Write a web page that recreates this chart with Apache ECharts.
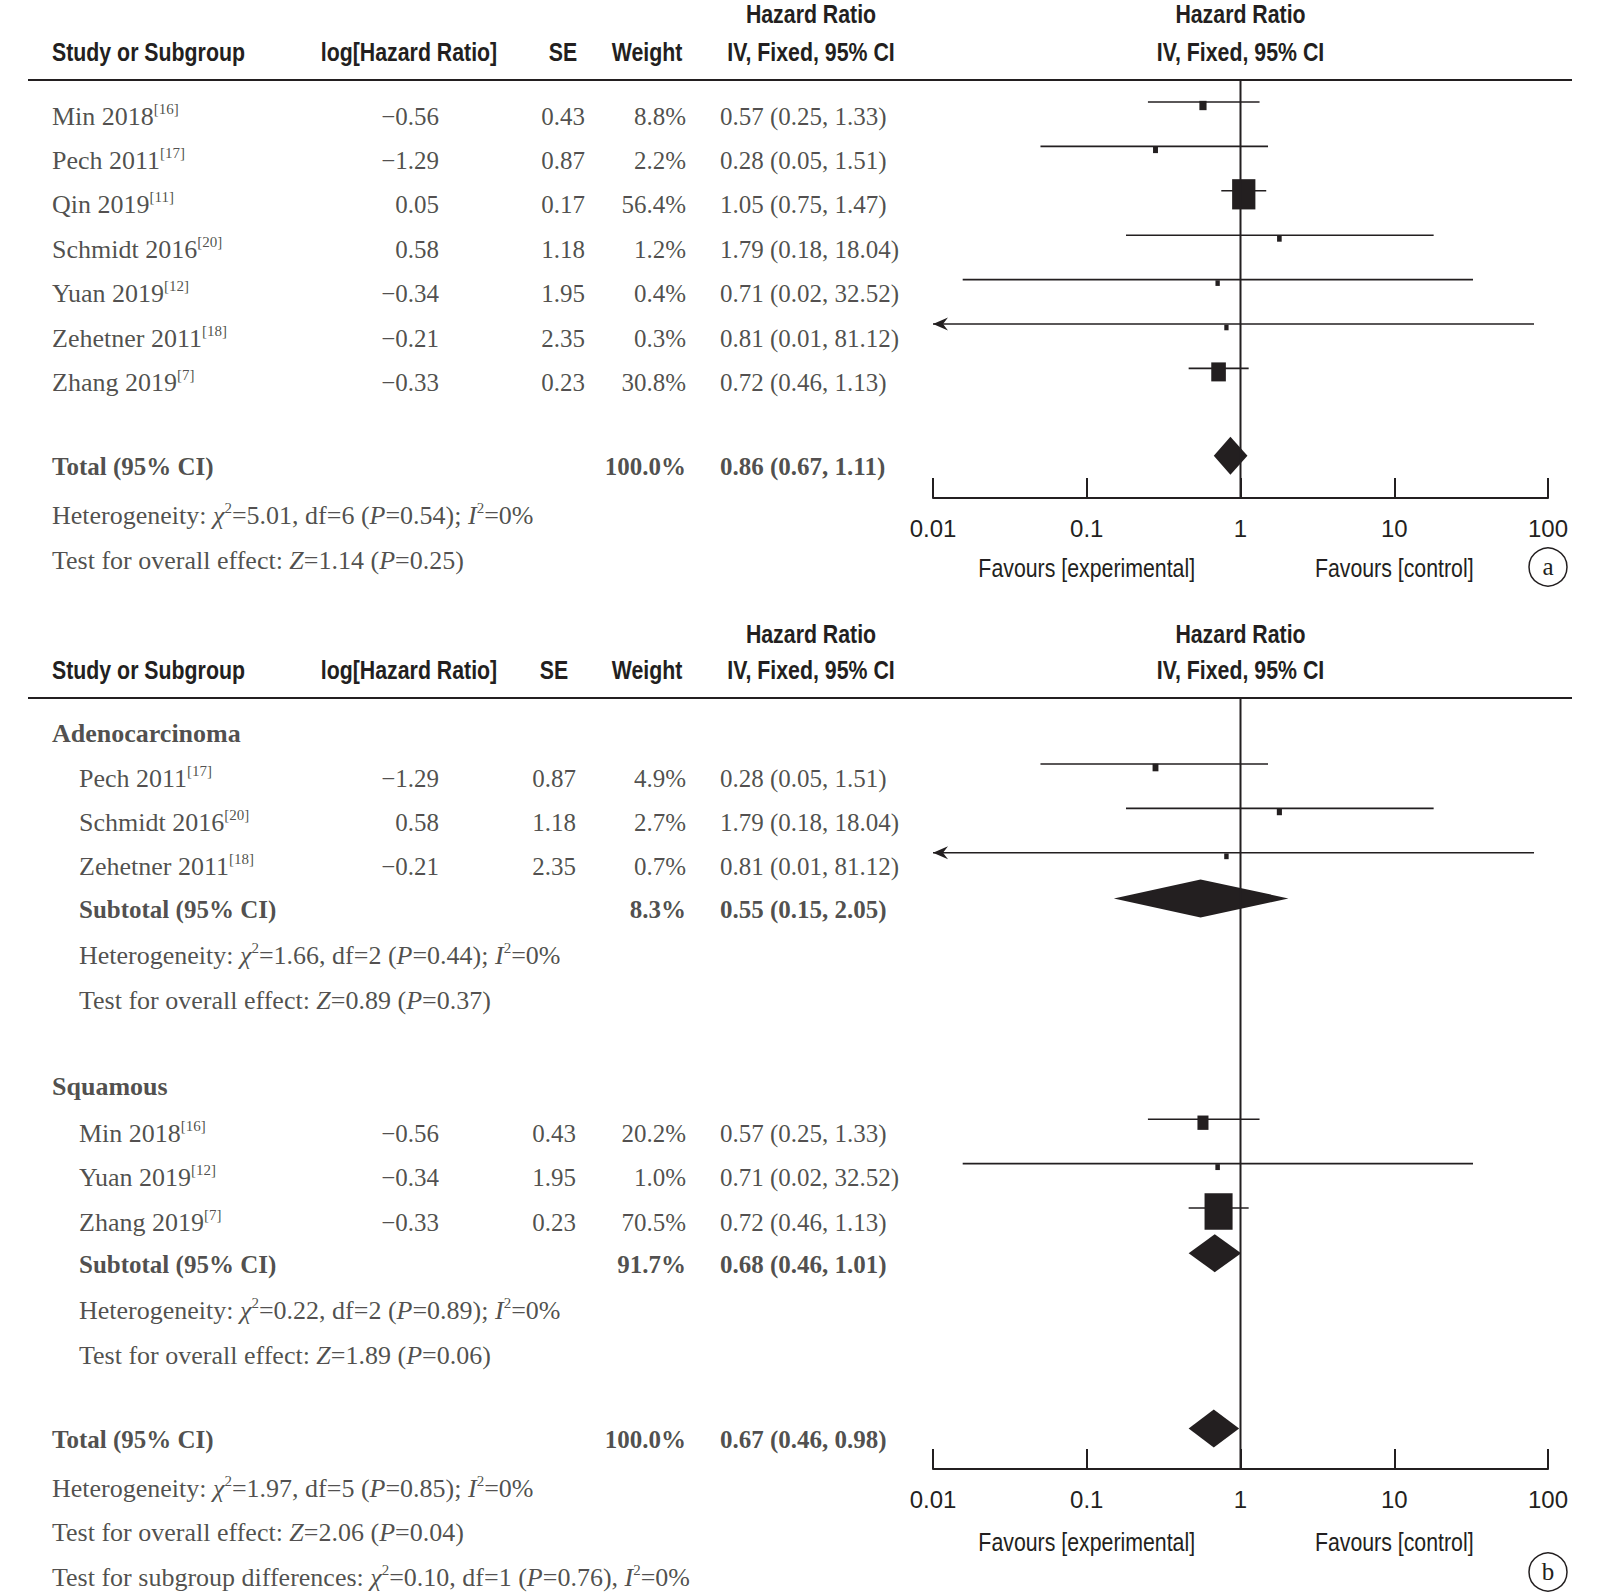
<!DOCTYPE html>
<html><head><meta charset="utf-8">
<script src="https://cdn.jsdelivr.net/npm/echarts@6/dist/echarts.min.js"></script>
<style>html,body{margin:0;padding:0;background:#fff}#c{width:1600px;height:1594px}</style>
</head><body><div id="c"></div>
<script>
// ================= DATA =================
const tickValues = [0.01, 0.1, 1, 10, 100];
const tickLabels = ['0.01', '0.1', '1', '10', '100'];

// Panel (a): overall
const studiesA = ['Min 2018', 'Pech 2011', 'Qin 2019', 'Schmidt 2016', 'Yuan 2019', 'Zehetner 2011', 'Zhang 2019'];
const refsA    = ['16', '17', '11', '20', '12', '18', '7'];
const logHrA   = [-0.56, -1.29, 0.05, 0.58, -0.34, -0.21, -0.33];
const seA      = [0.43, 0.87, 0.17, 1.18, 1.95, 2.35, 0.23];
const weightA  = [8.8, 2.2, 56.4, 1.2, 0.4, 0.3, 30.8];
const hrA      = [0.57, 0.28, 1.05, 1.79, 0.71, 0.81, 0.72];
const loA      = [0.25, 0.05, 0.75, 0.18, 0.0156, 0.01, 0.46];
const hiA      = [1.33, 1.51, 1.47, 18.04, 32.52, 81.12, 1.13];
const totalWeightA = 100.0;
const totalHrA = [0.86, 0.67, 1.11];   // estimate, lower, upper
const statsA = ['Heterogeneity: χ²=5.01, df=6 (P=0.54); I²=0%', 'Test for overall effect: Z=1.14 (P=0.25)'];

// Panel (b): subgroups
const adenoStudies = ['Pech 2011', 'Schmidt 2016', 'Zehetner 2011'];
const adenoRefs    = ['17', '20', '18'];
const adenoLogHr   = [-1.29, 0.58, -0.21];
const adenoSe      = [0.87, 1.18, 2.35];
const adenoWeight  = [4.9, 2.7, 0.7];
const adenoHr      = [0.28, 1.79, 0.81];
const adenoLo      = [0.05, 0.18, 0.01];
const adenoHi      = [1.51, 18.04, 81.12];
const adenoSubWeight = 8.3;
const adenoSubHr   = [0.55, 0.15, 2.05];
const adenoStats   = ['Heterogeneity: χ²=1.66, df=2 (P=0.44); I²=0%', 'Test for overall effect: Z=0.89 (P=0.37)'];

const squamStudies = ['Min 2018', 'Yuan 2019', 'Zhang 2019'];
const squamRefs    = ['16', '12', '7'];
const squamLogHr   = [-0.56, -0.34, -0.33];
const squamSe      = [0.43, 1.95, 0.23];
const squamWeight  = [20.2, 1.0, 70.5];
const squamHr      = [0.57, 0.71, 0.72];
const squamLo      = [0.25, 0.0156, 0.46];
const squamHi      = [1.33, 32.52, 1.13];
const squamSubWeight = 91.7;
const squamSubHr   = [0.68, 0.46, 1.01];
const squamStats   = ['Heterogeneity: χ²=0.22, df=2 (P=0.89); I²=0%', 'Test for overall effect: Z=1.89 (P=0.06)'];

const totalWeightB = 100.0;
const totalHrB = [0.67, 0.46, 0.98];
const statsB = ['Heterogeneity: χ²=1.97, df=5 (P=0.85); I²=0%', 'Test for overall effect: Z=2.06 (P=0.04)', 'Test for subgroup differences: χ²=0.10, df=1 (P=0.76), I²=0%'];

// ================= LAYOUT / STYLE =================
const INK = '#231f20';
const SANS = 'Liberation Sans, Arial, sans-serif';
const NARROW = 0.82;               // horizontal squeeze for the condensed sans headers
const SERIF = 'Liberation Serif, Times New Roman, serif';
const FS_NUM = 25, FS_TXT = 26;
const AX_MIN = 0.01, AX_MAX = 100;
const PLOT_LEFT = 933, PLOT_RIGHT = 1548;
const TXT_DY = 14, DIAMOND_DY = 3, DIAMOND_HALF = 19;
const P = {
  a: { row0: 102, step: 44.4, gridTop: 80, gridBottom: 498, textTop: 0, textBottom: 600 },
  b: { row0: 764, step: 44.4, gridTop: 698, gridBottom: 1469, textTop: 600, textBottom: 1594 }
};
const COL = {
  a: { name: 52, logHr: 439, se: 585, weight: 686, ci: 720 },
  b: { head: 52, name: 79, logHr: 439, se: 576, weight: 686, ci: 720 }
};
const ROW_A = { total: 7.9, stats: [9, 10] };
const ROW_B = { adenoHead: -1, adeno: 0, adenoSub: 2.96, adenoStats: [4, 5], squamHead: 6.94, squam: 8, squamSub: 10.95, squamStats: [12, 13], total: 14.9, stats: [16, 17, 18] };

function plotY(p) { return { min: (p.gridTop - p.row0) / p.step, max: (p.gridBottom - p.row0) / p.step }; }
function textY(p) { return { min: (p.textTop - p.row0 - TXT_DY) / p.step, max: (p.textBottom - p.row0 - TXT_DY) / p.step }; }

// ================= HELPERS =================
const fmtSigned = v => (v < 0 ? '\u2212' : '') + Math.abs(v).toFixed(2);
const fmtW = v => v.toFixed(1) + '%';
const fmtCI = (e, l, h) => e.toFixed(2) + ' (' + l.toFixed(2) + ', ' + h.toFixed(2) + ')';
function richStats(s) {
  return s.replace(/χ²/g, '{it|χ}{sup|2}').replace(/I²/g, '{it|I}{sup|2}')
          .replace(/P=/g, '{it|P}=').replace(/Z=/g, '{it|Z}=');
}
function rich(fs) {
  return {
    sup: { fontFamily: SERIF, fontSize: 15, lineHeight: 14, verticalAlign: 'top', color: INK },
    it:  { fontFamily: SERIF, fontSize: fs, fontStyle: 'italic', color: INK, lineHeight: 30 }
  };
}
function T(x, row, str, align, bold, fs) {
  fs = fs || FS_NUM;
  return {
    value: [x, row],
    label: {
      show: true, formatter: str, distance: 0,
      position: align === 'left' ? 'right' : (align === 'right' ? 'left' : 'inside'),
      fontFamily: SERIF, fontSize: fs, lineHeight: 30,
      fontWeight: bold ? 'bold' : 'normal', color: INK, rich: rich(fs)
    }
  };
}
function studyRows(out, col, rowStart, names, refs, lh, se, w, hr, lo, hi) {
  names.forEach((n, i) => {
    const r = rowStart + i;
    out.push(T(col.name, r, n + '{sup|[' + refs[i] + ']}', 'left', false, FS_TXT));
    out.push(T(col.logHr, r, fmtSigned(lh[i]), 'right'));
    out.push(T(col.se, r, se[i].toFixed(2), 'right'));
    out.push(T(col.weight, r, fmtW(w[i]), 'right'));
    out.push(T(col.ci, r, fmtCI(hr[i], lo[i], hi[i]), 'left'));
  });
}

// Text rows panel a
const textA = [];
studyRows(textA, COL.a, 0, studiesA, refsA, logHrA, seA, weightA, hrA, loA, hiA);
textA.push(T(COL.a.name, ROW_A.total, 'Total (95% CI)', 'left', true));
textA.push(T(COL.a.weight, ROW_A.total, fmtW(totalWeightA), 'right', true));
textA.push(T(COL.a.ci, ROW_A.total, fmtCI(...totalHrA), 'left', true));
statsA.forEach((s, i) => textA.push(T(COL.a.name, ROW_A.stats[i], richStats(s), 'left', false, FS_TXT)));

// Text rows panel b
const textB = [];
textB.push(T(COL.b.head, ROW_B.adenoHead, 'Adenocarcinoma', 'left', true, FS_TXT));
studyRows(textB, COL.b, ROW_B.adeno, adenoStudies, adenoRefs, adenoLogHr, adenoSe, adenoWeight, adenoHr, adenoLo, adenoHi);
textB.push(T(COL.b.name, ROW_B.adenoSub, 'Subtotal (95% CI)', 'left', true));
textB.push(T(COL.b.weight, ROW_B.adenoSub, fmtW(adenoSubWeight), 'right', true));
textB.push(T(COL.b.ci, ROW_B.adenoSub, fmtCI(...adenoSubHr), 'left', true));
adenoStats.forEach((s, i) => textB.push(T(COL.b.name, ROW_B.adenoStats[i], richStats(s), 'left', false, FS_TXT)));
textB.push(T(COL.b.head, ROW_B.squamHead, 'Squamous', 'left', true, FS_TXT));
studyRows(textB, COL.b, ROW_B.squam, squamStudies, squamRefs, squamLogHr, squamSe, squamWeight, squamHr, squamLo, squamHi);
textB.push(T(COL.b.name, ROW_B.squamSub, 'Subtotal (95% CI)', 'left', true));
textB.push(T(COL.b.weight, ROW_B.squamSub, fmtW(squamSubWeight), 'right', true));
textB.push(T(COL.b.ci, ROW_B.squamSub, fmtCI(...squamSubHr), 'left', true));
squamStats.forEach((s, i) => textB.push(T(COL.b.name, ROW_B.squamStats[i], richStats(s), 'left', false, FS_TXT)));
textB.push(T(COL.b.head, ROW_B.total, 'Total (95% CI)', 'left', true));
textB.push(T(COL.b.weight, ROW_B.total, fmtW(totalWeightB), 'right', true));
textB.push(T(COL.b.ci, ROW_B.total, fmtCI(...totalHrB), 'left', true));
statsB.forEach((s, i) => textB.push(T(COL.b.head, ROW_B.stats[i], richStats(s), 'left', false, FS_TXT)));

// Forest data
const forestA = studiesA.map((s, i) => [hrA[i], loA[i], hiA[i], i, weightA[i]]);
const diamondA = [[...totalHrA, ROW_A.total]];
const forestB = adenoStudies.map((s, i) => [adenoHr[i], adenoLo[i], adenoHi[i], ROW_B.adeno + i, adenoWeight[i]])
  .concat(squamStudies.map((s, i) => [squamHr[i], squamLo[i], squamHi[i], ROW_B.squam + i, squamWeight[i]]));
const diamondB = [[...adenoSubHr, ROW_B.adenoSub], [...squamSubHr, ROW_B.squamSub], [...totalHrB, ROW_B.total]];

function renderStudy(params, api) {
  const est = api.value(0), lo = api.value(1), hi = api.value(2), row = api.value(3), w = api.value(4);
  const lp = api.coord([Math.max(lo, AX_MIN), row]);
  const hp = api.coord([Math.min(hi, AX_MAX), row]);
  const ep = api.coord([est, row]);
  const bw = 4.2 + 0.338 * w, bh = Math.max(5.5, 1.3 * bw);
  const children = [
    { type: 'line', shape: { x1: lp[0], y1: lp[1], x2: hp[0], y2: hp[1] }, style: { stroke: INK, lineWidth: 1.6 } },
    { type: 'rect', shape: { x: ep[0] - bw / 2, y: ep[1] + 3.5 - bh / 2, width: bw, height: bh }, style: { fill: INK } }
  ];
  if (lo <= AX_MIN) {
    children.push({ type: 'polygon', shape: { points: [[lp[0], lp[1]], [lp[0] + 15, lp[1] - 6.5], [lp[0] + 10, lp[1]], [lp[0] + 15, lp[1] + 6.5]] }, style: { fill: INK } });
  }
  return { type: 'group', children };
}
function renderDiamond(params, api) {
  const est = api.value(0), lo = api.value(1), hi = api.value(2), row = api.value(3);
  const l = api.coord([lo, row]), h = api.coord([hi, row]), e = api.coord([est, row]);
  const cy = e[1] + DIAMOND_DY, hh = DIAMOND_HALF;
  return { type: 'polygon', shape: { points: [[l[0], cy], [e[0], cy - hh], [h[0], cy], [e[0], cy + hh]] }, style: { fill: INK } };
}

function logAxis(gi) {
  return {
    type: 'log', logBase: 10, gridIndex: gi, min: AX_MIN, max: AX_MAX, position: 'bottom',
    axisLine: { show: true, onZero: false, lineStyle: { color: INK, width: 2 } },
    axisTick: { show: true, inside: true, length: 20, lineStyle: { color: INK, width: 2 } },
    splitLine: { show: false }, minorTick: { show: false },
    axisLabel: {
      show: true, margin: 18, fontFamily: SANS, fontSize: 24, color: INK,
      formatter: v => { const k = tickValues.findIndex(t => Math.abs(Math.log10(t) - Math.log10(v)) < 1e-6); return k >= 0 ? tickLabels[k] : ''; }
    }
  };
}
const hiddenX = gi => ({ type: 'value', gridIndex: gi, min: 0, max: 1600, show: false });
const yAx = (gi, r) => ({ type: 'value', gridIndex: gi, inverse: true, min: r.min, max: r.max, show: false });

const yPA = plotY(P.a), yPB = plotY(P.b);

const option = {
  animation: false,
  backgroundColor: '#ffffff',
  grid: [
    { left: PLOT_LEFT, width: PLOT_RIGHT - PLOT_LEFT, top: P.a.gridTop, height: P.a.gridBottom - P.a.gridTop },
    { left: 0, width: 1600, top: P.a.textTop, height: P.a.textBottom - P.a.textTop },
    { left: PLOT_LEFT, width: PLOT_RIGHT - PLOT_LEFT, top: P.b.gridTop, height: P.b.gridBottom - P.b.gridTop },
    { left: 0, width: 1600, top: P.b.textTop, height: P.b.textBottom - P.b.textTop }
  ],
  xAxis: [logAxis(0), hiddenX(1), logAxis(2), hiddenX(3)],
  yAxis: [yAx(0, yPA), yAx(1, textY(P.a)), yAx(2, yPB), yAx(3, textY(P.b))],
  series: [
    { type: 'line', xAxisIndex: 0, yAxisIndex: 0, data: [[1, yPA.min], [1, yPA.max]], symbol: 'none', lineStyle: { color: INK, width: 2 }, silent: true },
    { type: 'line', xAxisIndex: 2, yAxisIndex: 2, data: [[1, yPB.min], [1, yPB.max]], symbol: 'none', lineStyle: { color: INK, width: 2 }, silent: true },
    { type: 'custom', xAxisIndex: 0, yAxisIndex: 0, data: forestA, encode: { x: [0, 1, 2], y: 3 }, renderItem: renderStudy, silent: true },
    { type: 'custom', xAxisIndex: 0, yAxisIndex: 0, data: diamondA, encode: { x: [0, 1, 2], y: 3 }, renderItem: renderDiamond, silent: true },
    { type: 'custom', xAxisIndex: 2, yAxisIndex: 2, data: forestB, encode: { x: [0, 1, 2], y: 3 }, renderItem: renderStudy, silent: true },
    { type: 'custom', xAxisIndex: 2, yAxisIndex: 2, data: diamondB, encode: { x: [0, 1, 2], y: 3 }, renderItem: renderDiamond, silent: true },
    { type: 'scatter', xAxisIndex: 1, yAxisIndex: 1, data: textA, symbolSize: 0, silent: true, clip: false },
    { type: 'scatter', xAxisIndex: 3, yAxisIndex: 3, data: textB, symbolSize: 0, silent: true, clip: false }
  ]
};

const chart = echarts.init(document.getElementById('c'), null, { renderer: 'svg', width: 1600, height: 1594 });
chart.setOption(option);

// ---- headers, rules, axis captions, panel letters ----
function gtext(x, y, text, opt) {
  opt = opt || {};
  const serif = opt.family === SERIF;
  return {
    type: 'text', x: x, y: y, silent: true, scaleX: serif ? 1 : NARROW,
    style: {
      text: text, fill: INK, align: opt.align || 'center', verticalAlign: 'middle',
      fontFamily: opt.family || SANS, fontSize: opt.size || 26, fontWeight: opt.weight || 'bold'
    }
  };
}
const HEAD = {
  a: { y1: 14, y2: 52, rule: 80, se: 563 },
  b: { y1: 634, y2: 670, rule: 698, se: 554 }
};
const gx = v => chart.convertToPixel({ xAxisIndex: 0 }, v);
const graphics = [];
['a', 'b'].forEach(k => {
  const h = HEAD[k];
  graphics.push(gtext(811, h.y1, 'Hazard Ratio'));
  graphics.push(gtext(gx(1), h.y1, 'Hazard Ratio'));
  graphics.push(gtext(52, h.y2, 'Study or Subgroup', { align: 'left' }));
  graphics.push(gtext(409, h.y2, 'log[Hazard Ratio]'));
  graphics.push(gtext(h.se, h.y2, 'SE'));
  graphics.push(gtext(647, h.y2, 'Weight'));
  graphics.push(gtext(811, h.y2, 'IV, Fixed, 95% CI'));
  graphics.push(gtext(gx(1), h.y2, 'IV, Fixed, 95% CI'));
  graphics.push({ type: 'line', silent: true, shape: { x1: 28, y1: h.rule, x2: 1572, y2: h.rule }, style: { stroke: INK, lineWidth: 2 } });
});
const CAP = { a: 568, b: 1542 };
const LETTER = { a: 567, b: 1572 };
['a', 'b'].forEach(k => {
  graphics.push(gtext(gx(0.1), CAP[k], 'Favours [experimental]', { weight: 'normal' }));
  graphics.push(gtext(gx(10), CAP[k], 'Favours [control]', { weight: 'normal' }));
  graphics.push({ type: 'circle', silent: true, shape: { cx: gx(100), cy: LETTER[k], r: 19 }, style: { fill: 'none', stroke: INK, lineWidth: 1.5 } });
  graphics.push(gtext(gx(100), LETTER[k] - 1, k, { family: SERIF, weight: 'normal', size: 25 }));
});
chart.setOption({ graphic: graphics });
</script>
</body></html>
